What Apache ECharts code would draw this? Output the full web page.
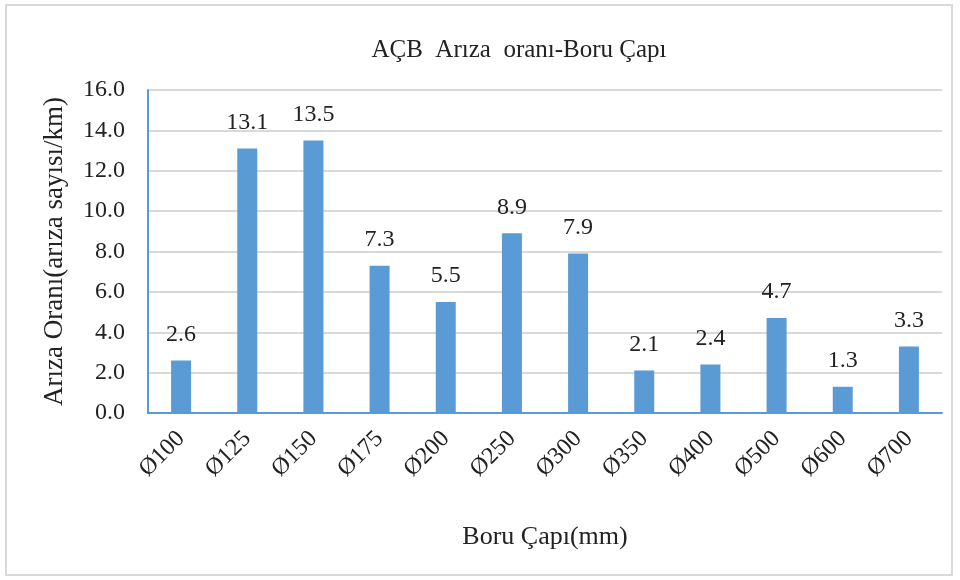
<!DOCTYPE html>
<html>
<head>
<meta charset="utf-8">
<script src="https://cdn.jsdelivr.net/npm/echarts@6/dist/echarts.min.js"></script>
<style>
  html, body { margin: 0; padding: 0; background: #fff; }
  #chart { width: 960px; height: 580px; }
  #frame { position: absolute; left: 5px; top: 4px; width: 948px; height: 572px; border: 2px solid #d9d9d9; box-sizing: border-box; pointer-events: none; }
</style>
</head>
<body>
<div id="chart"></div>
<div id="frame"></div>
<script>
// boru çapları
const categories = ['Ø100', 'Ø125', 'Ø150', 'Ø175', 'Ø200', 'Ø250', 'Ø300', 'Ø350', 'Ø400', 'Ø500', 'Ø600', 'Ø700'];
// arıza oranı (arıza sayısı/km)
const values = [2.6, 13.1, 13.5, 7.3, 5.5, 8.9, 7.9, 2.1, 2.4, 4.7, 1.3, 3.3];
const yTicks = { min: 0, max: 16, interval: 2 };

const font = 'Liberation Serif';
const chart = echarts.init(document.getElementById('chart'));

chart.setOption({
  animation: false,
  title: {
    text: 'AÇB  Arıza  oranı-Boru Çapı',
    left: 514,
    top: 33,
    textAlign: 'center',
    textStyle: { fontFamily: font, fontSize: 25, fontWeight: 'normal', color: '#222' }
  },
  grid: { left: 148, right: 18, top: 90, bottom: 167 },
  xAxis: {
    type: 'category',
    data: categories,
    name: 'Boru Çapı(mm)',
    nameLocation: 'middle',
    nameGap: 111,
    nameTextStyle: { fontFamily: font, fontSize: 26, color: '#222' },
    axisLine: { lineStyle: { color: '#5b9bd5', width: 2 } },
    axisTick: { show: false },
    axisLabel: {
      rotate: 45,
      margin: 22,
      fontFamily: font,
      fontSize: 24,
      color: '#222'
    }
  },
  yAxis: {
    type: 'value',
    min: yTicks.min,
    max: yTicks.max,
    interval: yTicks.interval,
    name: 'Arıza Oranı(arıza sayısı/km)',
    nameLocation: 'middle',
    nameGap: 80,
    nameTextStyle: { fontFamily: font, fontSize: 27, color: '#222' },
    axisLine: { show: true, lineStyle: { color: '#5b9bd5', width: 2 } },
    axisTick: { show: false },
    splitLine: { lineStyle: { color: '#d9d9d9', width: 2 } },
    axisLabel: {
      margin: 23,
      fontFamily: font,
      fontSize: 24,
      color: '#222',
      formatter: v => v.toFixed(1)
    }
  },
  series: [{
    type: 'bar',
    data: values,
    barWidth: 20,
    itemStyle: { color: '#5b9bd5' },
    label: {
      show: true,
      position: 'top',
      distance: 14,
      fontFamily: font,
      fontSize: 24,
      color: '#222',
      formatter: p => p.value.toFixed(1)
    }
  }]
});
</script>
</body>
</html>
